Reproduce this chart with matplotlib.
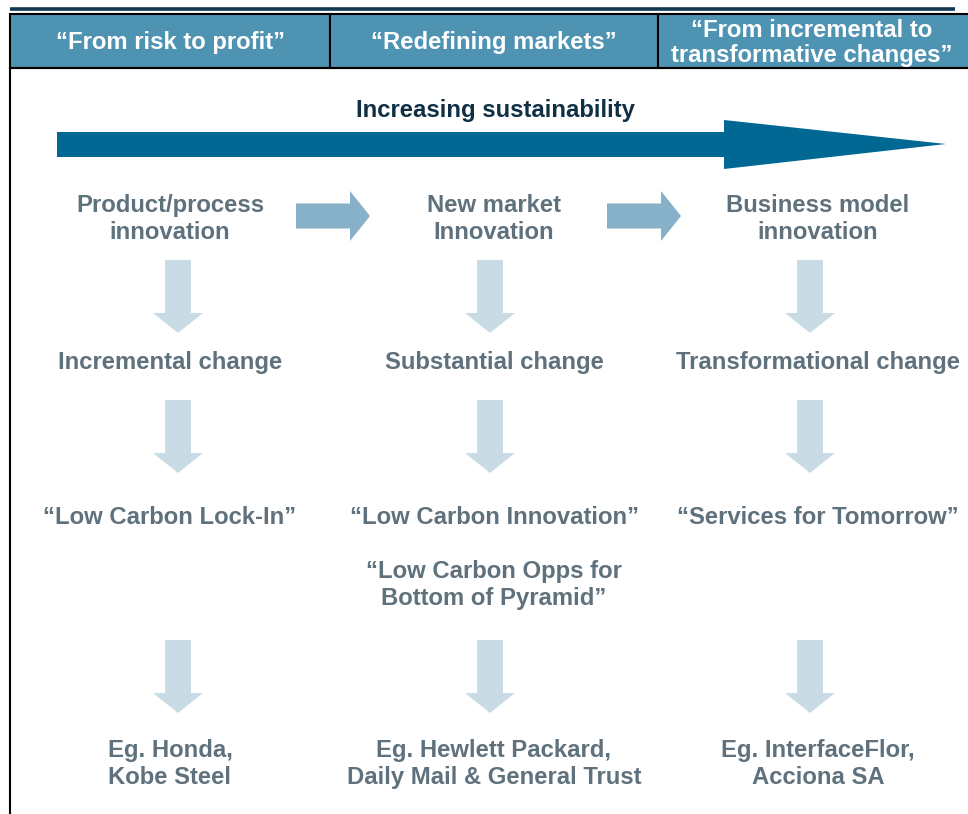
import matplotlib
matplotlib.use("Agg")
import matplotlib.pyplot as plt
from matplotlib.patches import Rectangle, Polygon

plt.rcParams['font.family'] = ['Liberation Sans', 'DejaVu Sans']

# ---- content ----
headers = ["\u201cFrom risk to profit\u201d", "\u201cRedefining markets\u201d",
           "\u201cFrom incremental to\ntransformative changes\u201d"]
banner = "Increasing sustainability"
innovation = ["Product/process\ninnovation", "New market\nInnovation", "Business model\ninnovation"]
change = ["Incremental change", "Substantial change", "Transformational change"]
themes = ["\u201cLow Carbon Lock-In\u201d", "\u201cLow Carbon Innovation\u201d", "\u201cServices for Tomorrow\u201d"]
extra_theme = "\u201cLow Carbon Opps for\nBottom of Pyramid\u201d"
examples = ["Eg. Honda,\nKobe Steel", "Eg. Hewlett Packard,\nDaily Mail & General Trust",
            "Eg. InterfaceFlor,\nAcciona SA"]

# ---- layout / style ----
W, H = 968, 814
header_bounds = [10, 330, 658, 980]
text_x = [170, 494, 818]
arrow_x = [178, 490, 810]
header_fill = "#4f93b3"
text_col = "#5e717d"
dark_blue = "#006893"
mid_arrow = "#86b1c8"
light_arrow = "#c9dce6"

fig = plt.figure(figsize=(W / 100, H / 100), dpi=100)
ax = fig.add_axes([0, 0, 1, 1])
ax.set_xlim(0, W)
ax.set_ylim(H, 0)
ax.axis("off")

# top dark rule
ax.plot([10, 955], [9, 9], color="#0f3850", lw=2.6, solid_capstyle="butt")

# header row
for i, t in enumerate(headers):
    x0, x1 = header_bounds[i], header_bounds[i + 1]
    ax.add_patch(Rectangle((x0, 14), x1 - x0, 54, facecolor=header_fill,
                           edgecolor="black", lw=1.5))
    cx = (x0 + min(x1, 968)) / 2 if i < 2 else 812
    ax.text(cx, 43, t, ha="center", va="center", color="white", fontsize=17.2,
            fontweight="bold", linespacing=1.08)

# body borders
ax.plot([10, 10], [68, 814], color="black", lw=1.5)
ax.plot([10, 968], [68, 68], color="black", lw=1.5)

# banner text and big arrow
ax.text(495, 110, banner, ha="center", va="center", color="#0e2f44",
        fontsize=17.2, fontweight="bold")
big = Polygon([(57, 132), (724, 132), (724, 120), (946, 144), (724, 169),
               (724, 157), (57, 157)], closed=True, facecolor=dark_blue, edgecolor="none")
ax.add_patch(big)

# horizontal arrows
def h_arrow(x0, x1, head_len, yc, shaft_h, head_h, color):
    pts = [(x0, yc - shaft_h / 2), (x1 - head_len, yc - shaft_h / 2), (x1 - head_len, yc - head_h / 2),
           (x1, yc), (x1 - head_len, yc + head_h / 2), (x1 - head_len, yc + shaft_h / 2),
           (x0, yc + shaft_h / 2)]
    ax.add_patch(Polygon(pts, closed=True, facecolor=color, edgecolor="none"))

def v_arrow(xc, y0, y1, head_len, shaft_w, head_w, color):
    pts = [(xc - shaft_w / 2, y0), (xc + shaft_w / 2, y0), (xc + shaft_w / 2, y1 - head_len),
           (xc + head_w / 2, y1 - head_len), (xc, y1), (xc - head_w / 2, y1 - head_len),
           (xc - shaft_w / 2, y1 - head_len)]
    ax.add_patch(Polygon(pts, closed=True, facecolor=color, edgecolor="none"))

h_arrow(296, 370, 20, 216, 25, 50, mid_arrow)
h_arrow(607, 681, 20, 216, 25, 50, mid_arrow)

for yy in [(260, 333), (400, 473), (640, 713)]:
    for xc in arrow_x:
        v_arrow(xc, yy[0], yy[1], 20, 26, 50, light_arrow)

fs = 17.2
for i in range(3):
    ax.text(text_x[i], 219, innovation[i], ha="center", va="center", color=text_col,
            fontsize=fs, fontweight="bold", linespacing=1.2)
    ax.text(text_x[i], 362, change[i], ha="center", va="center", color=text_col,
            fontsize=fs, fontweight="bold")
    ax.text(text_x[i], 517, themes[i], ha="center", va="center", color=text_col,
            fontsize=fs, fontweight="bold")
    ax.text(text_x[i], 764, examples[i], ha="center", va="center", color=text_col,
            fontsize=fs, fontweight="bold", linespacing=1.2)
ax.text(text_x[1], 585, extra_theme, ha="center", va="center", color=text_col,
        fontsize=fs, fontweight="bold", linespacing=1.2)

fig.savefig("out.png", dpi=100)
